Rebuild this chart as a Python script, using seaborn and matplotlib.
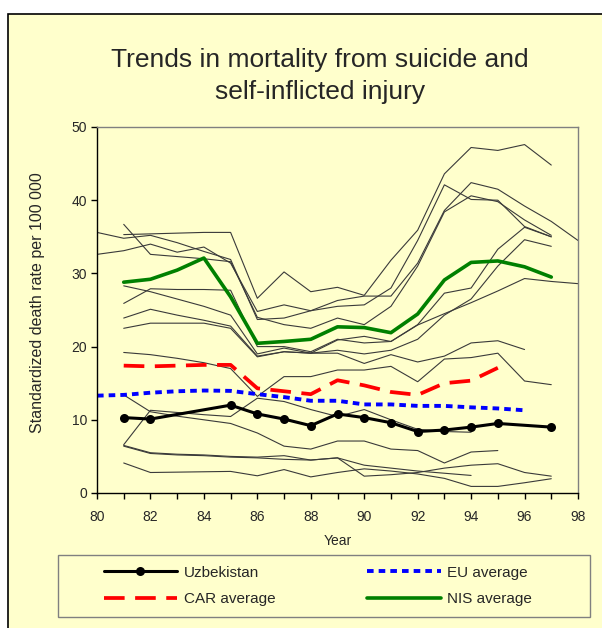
import matplotlib
matplotlib.use("Agg")
import matplotlib.pyplot as plt
import pandas as pd
import seaborn as sns
from matplotlib.patches import Rectangle
from matplotlib.ticker import MultipleLocator

# Highlighted series (year = 19xx)
uzb_years = [81, 82, 85, 86, 87, 88, 89, 90, 91, 92, 93, 94, 95, 97]
uzb_rate = [10.3, 10.1, 12.0, 10.8, 10.1, 9.2, 10.8, 10.3, 9.6, 8.4, 8.6, 9.0, 9.5, 9.0]
eu_years = list(range(80, 97))
eu_rate = [13.3, 13.4, 13.7, 13.9, 14.0, 13.95, 13.5, 13.1, 12.6, 12.6, 12.1, 12.1,
           11.9, 11.9, 11.7, 11.55, 11.3]
car_years = list(range(81, 96))
car_rate = [17.4, 17.3, 17.4, 17.5, 17.5, 14.3, 13.9, 13.5, 15.4, 14.7, 13.8, 13.4,
            15.0, 15.35, 17.1]
nis_years = list(range(81, 98))
nis_rate = [28.8, 29.2, 30.45, 32.1, 26.8, 20.45, 20.7, 21.0, 22.7, 22.6, 21.9, 24.45,
            29.1, 31.5, 31.7, 30.9, 29.5]

# Other countries: (first year, rates for consecutive years)
other_a = (80, [35.6, 34.8, 35.2, 34.2, 33.0, 31.9, 23.7, 23.9, 24.9, 26.3, 26.9, 26.9,
                31.4, 38.6, 42.4, 41.5, 39.2, 37.1, 34.5])
other_b = (81, [35.3, 35.4, 35.5, 35.6, 35.6, 26.6, 30.2, 27.5, 28.1, 27.0, 31.8, 35.9,
                43.6, 47.2, 46.8, 47.6, 44.8])
other_c = (81, [36.7, 32.6, 32.3, 32.0, 31.6, 24.0, 23.0, 22.5, 23.9, 23.0, 25.5, 31.0,
                38.4, 40.6, 39.8, 37.3, 35.2])
other_d = (80, [32.6, 33.1, 34.0, 32.9, 33.6, 31.4, 24.8, 25.7, 24.9, 25.5, 25.7, 28.0,
                34.5, 42.1, 40.1, 40.0, 36.4, 35.0])
other_e = (81, [28.3, 27.5, 26.5, 25.5, 24.3, 19.0, 19.8, 19.1, 20.9, 21.4, 20.7, 23.0,
                27.3, 28.0, 33.3, 36.3, 35.0])
other_f = (81, [25.9, 27.9, 27.8, 27.8, 27.7, 20.0, 20.0, 19.3, 21.0, 20.5, 20.7, 22.95,
                24.5, 26.0, 27.6, 29.3, 28.9, 28.6])
other_g = (81, [22.5, 23.2, 23.2, 23.2, 22.5, 18.6, 19.3, 19.1, 19.5, 19.0, 19.5, 21.0,
                24.3, 26.5, 31.0, 34.6, 33.7])
other_h = (81, [23.9, 25.1, 24.3, 23.6, 22.8, 18.7, 19.3, 19.1, 19.1, 17.7, 18.9, 17.9,
                18.7, 20.5, 20.8, 19.6])
other_i = (81, [19.2, 18.9, 18.4, 17.8, 17.0, 13.2, 15.9, 15.9, 16.8, 16.8, 17.3, 15.2,
                18.3, 18.5, 19.1, 15.3, 14.8])
other_j = (81, [13.4, 11.1, 10.5, 10.0, 9.5, 8.2, 6.4, 6.0, 7.1, 7.1, 6.0, 5.8, 4.1, 5.6, 5.8])
other_k = (81, [6.6, 11.3, 11.0, 10.7, 10.45, 12.95, 12.5, 11.4, 10.45, 11.4, 10.0, 8.7,
                8.4, 8.3])
other_l = (81, [6.5, 5.5, 5.3, 5.2, 5.0, 4.9, 5.1, 4.5, 4.8, 3.8, 3.4, 3.0, 2.7, 2.4])
other_m = (81, [6.4, 5.4, 5.2, 5.1, 4.9, 4.8, 4.6, 4.5, 4.8, 2.3, 2.5, 2.8, 3.4, 3.8,
                4.0, 2.8, 2.3])
other_n = (81, [4.1, 2.8, 2.85, 2.9, 2.95, 2.35, 3.2, 2.2, 2.8, 3.3, 3.0, 2.6, 2.0, 0.9,
                0.9, 1.4, 1.95])

others = {"a": other_a, "b": other_b, "c": other_c, "d": other_d, "e": other_e,
          "f": other_f, "g": other_g, "h": other_h, "i": other_i, "j": other_j,
          "k": other_k, "l": other_l, "m": other_m, "n": other_n}

rows = []
for name, (start, vals) in others.items():
    for k, v in enumerate(vals):
        rows.append((name, start + k, v))
df_others = pd.DataFrame(rows, columns=["country", "year", "rate"])

sns.set_theme(style="white")
plt.rcParams["font.family"] = ["Liberation Sans", "DejaVu Sans"]

BG = "#FFFFCC"
fig = plt.figure(figsize=(6.02, 6.28), dpi=100, facecolor="white")
fig.add_artist(Rectangle((8 / 602, -0.05), 1.1, 1 - 14 / 628 + 0.05,
                         transform=fig.transFigure, facecolor=BG,
                         edgecolor="black", lw=1.2, zorder=-10))
# legend frame drawn separately (below the axes layer), entries centred inside it
fig.add_artist(Rectangle((58 / 602, 1 - 617 / 628), 532 / 602, 62 / 628,
                         transform=fig.transFigure, facecolor=BG,
                         edgecolor="#808080", lw=1, zorder=-5))

ax = fig.add_axes([97 / 602, 1 - 493 / 628, 481 / 602, 366 / 628])
ax.set_facecolor(BG)

sns.lineplot(data=df_others, x="year", y="rate", units="country", estimator=None,
             color="#3a3a3a", lw=0.8, legend=False, ax=ax)

sns.lineplot(x=nis_years, y=nis_rate, color="#008000", lw=2.6, ax=ax)
h_nis = ax.lines[-1]
sns.lineplot(x=car_years, y=car_rate, color="#FF0000", lw=2.7,
             linestyle=(0, (5.5, 2.8)), ax=ax)
h_car = ax.lines[-1]
sns.lineplot(x=eu_years, y=eu_rate, color="#0000FF", lw=2.8,
             linestyle=(0, (1.7, 1.3)), ax=ax)
h_eu = ax.lines[-1]
sns.lineplot(x=uzb_years, y=uzb_rate, color="black", lw=2.2, marker="o",
             markersize=6.5, markeredgewidth=0, ax=ax)
h_uzb = ax.lines[-1]

ax.set_xlim(80, 98)
ax.set_ylim(0, 50)
ax.xaxis.set_major_locator(MultipleLocator(2))
ax.xaxis.set_minor_locator(MultipleLocator(1))
ax.yaxis.set_major_locator(MultipleLocator(10))
ax.tick_params(axis="both", which="both", direction="out", length=4, width=1,
               color="black", labelsize=10, bottom=True, left=True)
ax.tick_params(axis="x", which="major", pad=8)
ax.tick_params(axis="y", which="major", pad=3)

for side in ["left", "bottom"]:
    ax.spines[side].set_color("black")
    ax.spines[side].set_linewidth(1)
for side in ["top", "right"]:
    ax.spines[side].set_color("#808080")
    ax.spines[side].set_linewidth(1)

ax.set_xlabel("Year", fontsize=10)
ax.set_ylabel("Standardized death rate per 100 000", fontsize=11.5)
ax.xaxis.set_label_coords(0.5, -0.112)
ax.yaxis.set_label_coords(-0.108, 0.52)

fig.text(0.531, 0.879, "Trends in mortality from suicide and\nself-inflicted injury",
         ha="center", va="center", fontsize=19, linespacing=1.38)

leg = ax.legend([h_uzb, h_car, h_eu, h_nis],
                ["Uzbekistan", "CAR average", "EU average", "NIS average"],
                loc="center", ncol=2, frameon=False,
                bbox_to_anchor=(318 / 602, 1 - 586 / 628),
                bbox_transform=fig.transFigure, borderaxespad=0,
                fontsize=11, handlelength=4.8, handletextpad=0.45,
                labelspacing=0.85, columnspacing=6.0)

fig.savefig("out.png", dpi=100, facecolor="white")
